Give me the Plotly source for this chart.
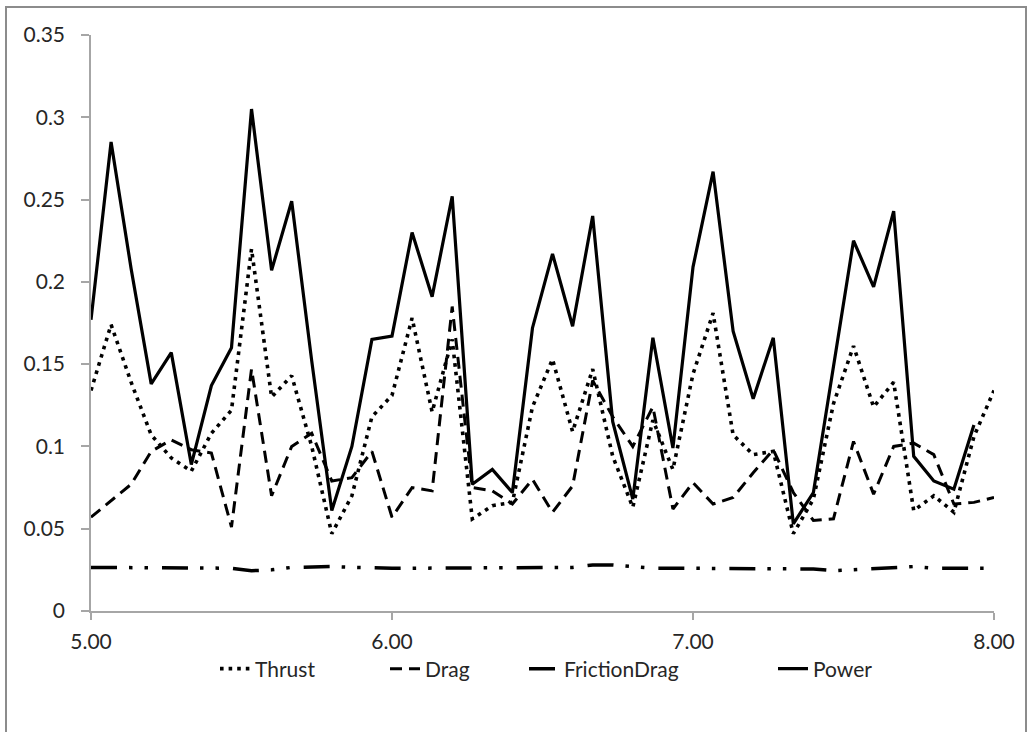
import plotly.graph_objects as go

# x positions (speed) for each sample
x_vals = [5.0000, 5.0667, 5.1333, 5.2000, 5.2667, 5.3333, 5.4000, 5.4667, 5.5333, 5.6000,
          5.6667, 5.7333, 5.8000, 5.8667, 5.9333, 6.0000, 6.0667, 6.1333, 6.2000, 6.2667,
          6.3333, 6.4000, 6.4667, 6.5333, 6.6000, 6.6667, 6.7333, 6.8000, 6.8667, 6.9333,
          7.0000, 7.0667, 7.1333, 7.2000, 7.2667, 7.3333, 7.4000, 7.4667, 7.5333, 7.6000,
          7.6667, 7.7333, 7.8000, 7.8667, 7.9333, 8.0000]

thrust = [0.134, 0.174, 0.139, 0.107, 0.093, 0.085, 0.108, 0.122, 0.220, 0.130,
          0.143, 0.100, 0.047, 0.070, 0.118, 0.131, 0.178, 0.121, 0.165, 0.056,
          0.064, 0.066, 0.124, 0.153, 0.109, 0.147, 0.094, 0.063, 0.116, 0.086,
          0.144, 0.181, 0.107, 0.095, 0.097, 0.047, 0.068, 0.126, 0.161, 0.124,
          0.139, 0.061, 0.070, 0.060, 0.106, 0.134]

drag = [0.057, 0.067, 0.077, 0.097, 0.104, 0.098, 0.096, 0.051, 0.147, 0.070,
        0.100, 0.108, 0.079, 0.081, 0.097, 0.057, 0.075, 0.073, 0.185, 0.075,
        0.073, 0.065, 0.080, 0.060, 0.076, 0.140, 0.118, 0.100, 0.124, 0.062,
        0.078, 0.065, 0.069, 0.084, 0.098, 0.072, 0.055, 0.056, 0.103, 0.071,
        0.100, 0.102, 0.095, 0.065, 0.066, 0.069]

friction_drag = [0.0265, 0.0265, 0.0265, 0.0265, 0.0265, 0.0265, 0.0265, 0.0260, 0.0245, 0.0250,
                 0.0265, 0.0270, 0.0270, 0.0265, 0.0260, 0.0260, 0.0260, 0.0260, 0.0260, 0.0265,
                 0.0260, 0.0260, 0.0260, 0.0260, 0.0265, 0.0280, 0.0280, 0.0270, 0.0260, 0.0260,
                 0.0260, 0.0260, 0.0260, 0.0260, 0.0260, 0.0260, 0.0255, 0.0245, 0.0250, 0.0260,
                 0.0265, 0.0270, 0.0260, 0.0260, 0.0260, 0.0260]

power = [0.177, 0.285, 0.208, 0.138, 0.157, 0.089, 0.137, 0.160, 0.305, 0.207,
         0.249, 0.152, 0.061, 0.100, 0.165, 0.167, 0.230, 0.191, 0.252, 0.077,
         0.086, 0.072, 0.172, 0.217, 0.173, 0.240, 0.115, 0.068, 0.166, 0.099,
         0.209, 0.267, 0.170, 0.129, 0.166, 0.053, 0.072, 0.148, 0.225, 0.197,
         0.243, 0.094, 0.079, 0.074, 0.113]

y_ticks = [0, 0.05, 0.1, 0.15, 0.2, 0.25, 0.3, 0.35]
y_tick_text = ["0", "0.05", "0.1", "0.15", "0.2", "0.25", "0.3", "0.35"]
x_ticks = [5, 6, 7, 8]
x_tick_text = ["5.00", "6.00", "7.00", "8.00"]

FONT = "Lato, 'Open Sans', sans-serif"
AXIS = "#a6a6a6"
TXT = "#262626"
FS = 21

fig = go.Figure()
fig.add_trace(go.Scatter(x=x_vals, y=thrust, name="Thrust", mode="lines", legendwidth=125,
                         line=dict(color="black", width=3.6, dash="3.6px,5px")))
fig.add_trace(go.Scatter(x=x_vals, y=drag, name="Drag", mode="lines", legendwidth=94,
                         line=dict(color="black", width=3, dash="12px,7px")))
fig.add_trace(go.Scatter(x=x_vals, y=friction_drag, name="FrictionDrag", mode="lines",
                         legendwidth=204,
                         line=dict(color="black", width=3.5,
                                   dash="26px,12px,3.5px,12px,3.5px,14px")))
fig.add_trace(go.Scatter(x=x_vals[:len(power)], y=power, name="Power", mode="lines",
                         legendwidth=70,
                         line=dict(color="black", width=3.2)))

fig.update_layout(
    width=1033, height=732,
    margin=dict(l=91, r=39, t=35, b=121, autoexpand=False),
    paper_bgcolor="white", plot_bgcolor="white",
    font=dict(family=FONT, size=FS, color=TXT),
    showlegend=True,
    legend=dict(orientation="h", x=(215 - 91) / 903, xanchor="left",
                y=(611 - 669) / 576, yanchor="middle",
                font=dict(family=FONT, size=FS, color=TXT),
                itemwidth=30, tracegroupgap=0),
    xaxis=dict(range=[5, 8], tickvals=x_ticks, ticktext=x_tick_text, automargin=False,
               showgrid=False, zeroline=False, showline=True, linecolor=AXIS, linewidth=1.5,
               ticks="outside", ticklen=7, tickcolor=AXIS, tickwidth=1.5,
               ticklabelstandoff=4,
               tickfont=dict(family=FONT, size=FS, color=TXT)),
    yaxis=dict(range=[0, 0.35], tickvals=y_ticks, ticktext=y_tick_text, automargin=False,
               showgrid=False, zeroline=False, showline=True, linecolor=AXIS, linewidth=1.5,
               ticks="outside", ticklen=8, tickcolor=AXIS, tickwidth=1.5,
               ticklabelstandoff=12,
               tickfont=dict(family=FONT, size=FS, color=TXT)),
    shapes=[dict(type="rect", xref="paper", yref="paper",
                 x0=(6 - 91) / 903, x1=(1026 - 91) / 903,
                 y0=(611 - 740) / 576, y1=(611 - 7) / 576,
                 line=dict(color="#8c8c8c", width=2), fillcolor="rgba(0,0,0,0)",
                 layer="below")],
)

fig.write_html("out.html", config={"displayModeBar": False},
               post_script="document.body.style.margin='0px';")
